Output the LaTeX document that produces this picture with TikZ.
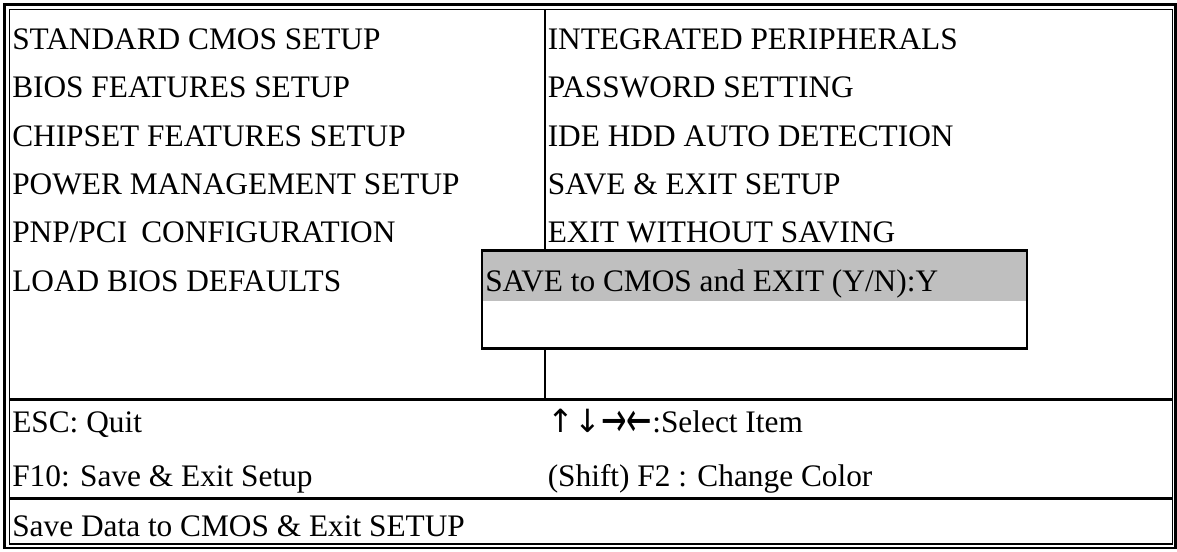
\documentclass[tikz,border=0pt]{standalone}
\usepackage{fontspec}
\setmainfont{Liberation Serif}
\newfontfamily\arrowfont{DejaVu Sans}
\begin{document}
\begin{tikzpicture}[x=0.75pt,y=-0.75pt,
  txt/.style={anchor=base west,inner sep=0pt,font=\fontsize{23.5}{27}\selectfont},
  thickline/.style={line width=2.1pt},
  thinline/.style={line width=1pt}]
\useasboundingbox (0,0) rectangle (1177,551);
\fill[white] (0,0) rectangle (1177,551);
% borders
\draw[thickline] (4.8,4.8) -- (1175.5,4.8) -- (1175.5,548) -- (4.8,548) -- cycle;
\draw[thinline] (9.2,9.2) rectangle (1172.5,544);
% separators
\draw[thickline] (9.2,399.5) -- (1172.5,399.5);
\draw[thickline] (9.2,498.5) -- (1172.5,498.5);
\draw[thickline] (545,9.2) -- (545,399.5);
% left column
\node[txt] (l1) at (12,49) {STANDARD CMOS SETUP};
\node[txt] (l2) at (12,97.5) {BIOS FEATURES SETUP};
\node[txt] (l3) at (12,146) {CHIPSET FEATURES SETUP};
\node[txt] (l4) at (12,194.3) {POWER MANAGEMENT SETUP};
\node[txt] (l5) at (12,242.6) {PNP/PCI\hspace{0.45em}CONFIGURATION};
\node[txt] (l6) at (12,291) {LOAD BIOS DEFAULTS};
% right column
\node[txt] (r1) at (547.5,49) {INTEGRATED PERIPHERALS};
\node[txt] (r2) at (547.5,97.5) {PASSWORD SETTING};
\node[txt] (r3) at (547.5,146) {IDE HDD AUTO DETECTION};
\node[txt] (r4) at (547.5,194.3) {SAVE \& EXIT SETUP};
\node[txt] (r5) at (547.5,242.6) {EXIT WITHOUT SAVING};
% popup
\fill[white] (482,250.5) rectangle (1027,348.5);
\fill[black!25] (482,250.5) rectangle (1027,300.5);
\draw[thickline] (482,250.5) rectangle (1027,348.5);
\node[txt] (pop) at (485,291) {SAVE to CMOS and EXIT (Y/N):Y};
% bottom
\node[txt] (b1) at (12,432) {ESC: Quit};
\node[txt] (b2) at (547.5,432) {{\arrowfont\fontsize{24}{28}\selectfont ↑↓\raisebox{-3.5pt}{\scalebox{0.95}[1.5]{→←}}}:Select Item};
\node[txt] (b3) at (12,486) {F10: Save \& Exit Setup};
\node[txt] (b4) at (547.5,486) {(Shift) F2 : Change Color};
\node[txt] (b5) at (12,536.5) {Save Data to CMOS \& Exit SETUP};
\end{tikzpicture}
\end{document}
